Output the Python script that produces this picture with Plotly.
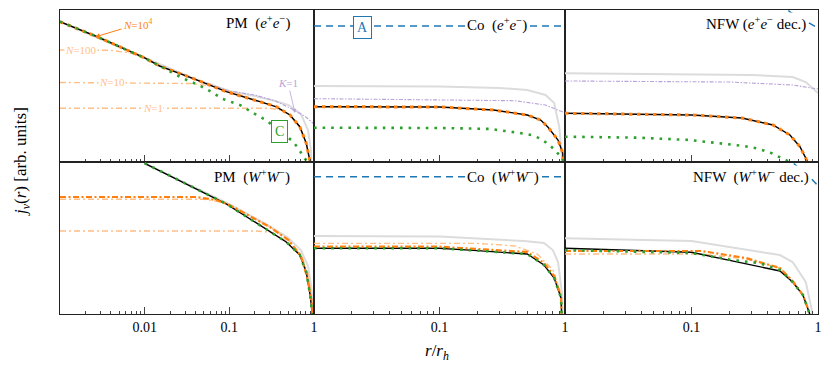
import plotly.graph_objects as go
from plotly.subplots import make_subplots

# ---- PM (e+e-) ----
pm_ee_black_r = [0.001, 0.0028, 0.01, 0.015, 0.037, 0.092, 0.23, 0.36, 0.52, 0.68, 0.81, 0.90, 0.97, 1.0]
pm_ee_black_j = [0.587, 0.293, 0.113, 0.0785, 0.0449, 0.0244, 0.0155, 0.0123, 0.00847, 0.00497, 0.00234, 0.0011, 0.00055, 1e-5]
pm_ee_n100_r = [0.001, 0.004, 0.007, 0.01, 0.015, 0.037, 0.092, 0.23, 0.36, 0.52, 0.68, 0.81, 0.90, 0.97, 1.0]
pm_ee_n100_j = [0.162, 0.16, 0.14, 0.113, 0.0785, 0.0449, 0.0244, 0.0155, 0.0123, 0.00847, 0.00497, 0.00234, 0.0011, 0.00055, 1e-5]
pm_ee_n10_r = [0.001, 0.035, 0.06, 0.1, 0.23, 0.36, 0.52, 0.68, 0.81, 0.90, 0.97, 1.0]
pm_ee_n10_j = [0.0371, 0.0354, 0.0316, 0.0246, 0.0155, 0.0123, 0.00847, 0.00497, 0.00234, 0.0011, 0.00055, 1e-5]
pm_ee_n1_r = [0.001, 0.3, 0.4, 0.5, 0.68, 0.81, 0.90, 0.97, 1.0]
pm_ee_n1_j = [0.0115, 0.0115, 0.0106, 0.0089, 0.00497, 0.00234, 0.0011, 0.00055, 1e-5]
pm_ee_green_r = [0.001, 0.0028, 0.01, 0.0187, 0.0283, 0.045, 0.056, 0.084, 0.134, 0.21, 0.27, 0.55, 0.65, 0.74, 0.84, 0.95]
pm_ee_green_j = [0.587, 0.293, 0.113, 0.0654, 0.0449, 0.0321, 0.0264, 0.0175, 0.0133, 0.00847, 0.00675, 0.00263, 0.00189, 0.00131, 0.001, 1e-5]
pm_ee_gray_r = [0.001, 0.01, 0.037, 0.1, 0.2, 0.35, 0.5, 0.7, 0.85, 0.92, 0.97, 1.0]
pm_ee_gray_j = [0.587, 0.113, 0.0449, 0.0252, 0.0201, 0.016, 0.0133, 0.00886, 0.00428, 0.00173, 0.00055, 1e-5]
pm_ee_k1_r = [0.03, 0.1, 0.2, 0.35, 0.55, 0.8, 1.0]
pm_ee_k1_j = [0.05, 0.0252, 0.021, 0.016, 0.0111, 0.00773, 0.00562]

# ---- Co (e+e-) ----
co_ee_blue_r = [0.01, 1.0]
co_ee_blue_j = [0.483, 0.483]
co_ee_gray_r = [0.01, 0.1, 0.3, 0.5, 0.7, 0.82, 0.9, 0.95, 1.0]
co_ee_gray_j = [0.0316, 0.0309, 0.0289, 0.0264, 0.021, 0.0146, 0.0049, 0.0011, 1e-5]
co_ee_k1_r = [0.01, 0.1, 0.4, 0.7, 1.0]
co_ee_k1_j = [0.0178, 0.0171, 0.0162, 0.0133, 0.0093]
co_ee_black_r = [0.01, 0.1, 0.27, 0.5, 0.64, 0.73, 0.88, 0.96, 1.0]
co_ee_black_j = [0.0123, 0.0122, 0.0106, 0.00847, 0.00675, 0.0049, 0.00272, 0.0015, 1e-5]
co_ee_green_r = [0.01, 0.1, 0.25, 0.33, 0.42, 0.54, 0.65, 0.73, 0.82, 0.9, 0.96, 1.0]
co_ee_green_j = [0.00475, 0.00469, 0.0045, 0.00415, 0.00379, 0.00341, 0.00284, 0.00227, 0.0018, 0.00137, 0.00115, 1e-5]

# ---- NFW (e+e- dec.) ----
nfw_ee_blue_r = [0.5, 0.6, 0.8, 1.0]
nfw_ee_blue_j = [1.44, 0.913, 0.607, 0.441]
nfw_ee_gray_r = [0.01, 0.1, 0.3, 0.63, 0.8, 1.0]
nfw_ee_gray_j = [0.0563, 0.0545, 0.0521, 0.0476, 0.0379, 0.023]
nfw_ee_k1_r = [0.01, 0.2, 0.63, 1.0]
nfw_ee_k1_j = [0.0397, 0.0379, 0.0331, 0.0276]
nfw_ee_black_r = [0.01, 0.1, 0.25, 0.44, 0.6, 0.72, 0.83, 0.9]
nfw_ee_black_j = [0.00915, 0.00847, 0.00739, 0.00537, 0.00341, 0.002, 0.001, 1e-5]
nfw_ee_green_r = [0.01, 0.037, 0.096, 0.16, 0.26, 0.33, 0.42, 0.52, 0.6, 0.7]
nfw_ee_green_j = [0.00316, 0.00302, 0.00272, 0.0024, 0.00207, 0.00186, 0.00153, 0.00118, 0.001, 1e-5]

# ---- PM (W+W-) ----
pm_ww_black_r = [0.01, 0.093, 0.47, 0.68, 0.81, 0.9, 0.95, 1.0]
pm_ww_black_j = [0.943, 0.148, 0.0264, 0.0146, 0.00675, 0.00237, 0.00105, 1e-5]
pm_ww_orange_r = [0.001, 0.04, 0.07, 0.1, 0.3, 0.5, 0.7, 0.85, 0.95, 1.0]
pm_ww_orange_j = [0.204, 0.204, 0.178, 0.142, 0.0521, 0.0289, 0.014, 0.00469, 0.0015, 1e-5]
pm_ww_n100_r = [0.001, 0.05, 0.08, 0.12, 0.3, 0.5, 0.7, 0.85, 0.95, 1.0]
pm_ww_n100_j = [0.184, 0.184, 0.162, 0.124, 0.0521, 0.0289, 0.014, 0.00469, 0.0015, 1e-5]
pm_ww_n10_r = [0.001, 0.2, 0.3, 0.45, 0.7, 0.85, 0.95, 1.0]
pm_ww_n10_j = [0.0435, 0.0435, 0.0415, 0.0289, 0.0153, 0.00616, 0.00189, 1e-5]
pm_ww_gray_r = [0.01, 0.1, 0.3, 0.5, 0.7, 0.85, 0.93, 0.98, 1.0]
pm_ww_gray_j = [0.943, 0.148, 0.0545, 0.0316, 0.0183, 0.00886, 0.00341, 0.0011, 1e-5]

# ---- Co (W+W-) ----
co_ww_blue_r = [0.01, 1.0]
co_ww_blue_j = [0.513, 0.513]
co_ww_gray_r = [0.01, 0.1, 0.47, 0.68, 0.8, 0.88, 0.95, 1.0]
co_ww_gray_j = [0.0346, 0.0339, 0.0276, 0.0252, 0.0183, 0.0106, 0.00237, 1e-5]
co_ww_black_r = [0.01, 0.1, 0.2, 0.5, 0.68, 0.82, 0.93, 1.0]
co_ww_black_j = [0.0198, 0.0198, 0.0178, 0.0153, 0.00927, 0.00513, 0.00207, 1e-5]
co_ww_orange_r = [0.01, 0.1, 0.2, 0.5, 0.68, 0.82, 0.93, 1.0]
co_ww_orange_j = [0.0213, 0.0213, 0.0192, 0.0167, 0.0102, 0.00562, 0.00217, 1e-5]
co_ww_light_r = [0.01, 0.2, 0.4, 0.6, 0.8, 0.93, 1.0]
co_ww_light_j = [0.0248, 0.0248, 0.022, 0.0153, 0.0075, 0.0025, 1e-5]

# ---- NFW (W+W- dec.) ----
nfw_ww_blue_r = [0.55, 0.65, 0.85, 1.0]
nfw_ww_blue_j = [1.37, 0.913, 0.529, 0.336]
nfw_ww_gray_r = [0.01, 0.1, 0.5, 0.63, 0.8, 0.9, 0.95]
nfw_ww_gray_j = [0.0312, 0.0276, 0.0146, 0.0106, 0.00428, 0.0011, 1e-5]
nfw_ww_black_r = [0.01, 0.1, 0.5, 0.63, 0.76, 0.83, 0.86, 0.9]
nfw_ww_black_j = [0.0198, 0.0165, 0.00706, 0.00428, 0.00237, 0.00131, 0.001, 1e-5]
nfw_ww_green_r = [0.01, 0.1, 0.21, 0.34, 0.5, 0.63, 0.76, 0.83, 0.86, 0.9]
nfw_ww_green_j = [0.0183, 0.016, 0.0116, 0.0102, 0.0074, 0.00428, 0.00237, 0.00131, 0.001, 1e-5]
nfw_ww_orange_r = [0.01, 0.12, 0.27, 0.5, 0.63, 0.76, 0.83, 0.86, 0.9]
nfw_ww_orange_j = [0.0175, 0.0175, 0.0127, 0.0081, 0.00447, 0.00237, 0.00131, 0.001, 1e-5]
nfw_ww_light_j = [0.0153, 0.0153, 0.0122, 0.0081, 0.00447, 0.00237, 0.00131, 0.001, 1e-5]

BLACK = dict(color='black', width=1.4)
ORANGE = dict(color='#ff7f0e', width=3, dash='3.5px,4.5px')
ORANGE_W = dict(color='#ff7f0e', width=2.2, dash='6px,2.5px,2px,2.5px')
GREEN = dict(color='#2ca02c', width=2.6, dash='2.6px,6px')
LIGHT = dict(color='#ffbf87', width=1.4, dash='6px,3px,2px,3px')
PURPLE = dict(color='#b9a3d9', width=1.1, dash='4px,1.5px,1.5px,1.5px')
GRAY = dict(color='#dcdcdc', width=2)
BLUE = dict(color='#1f77b4', width=1.5, dash='7px,5px')

fig = make_subplots(rows=2, cols=3, horizontal_spacing=0, vertical_spacing=0,
                    column_widths=[254, 251, 253])


def add(row, col, r, j, line):
    fig.add_trace(go.Scatter(x=r, y=j, mode='lines', line=line, hoverinfo='skip'),
                  row=row, col=col)


# top row
add(1, 1, pm_ee_gray_r, pm_ee_gray_j, GRAY)
add(1, 1, pm_ee_k1_r, pm_ee_k1_j, PURPLE)
add(1, 1, pm_ee_n100_r, pm_ee_n100_j, LIGHT)
add(1, 1, pm_ee_n10_r, pm_ee_n10_j, LIGHT)
add(1, 1, pm_ee_n1_r, pm_ee_n1_j, LIGHT)
add(1, 1, pm_ee_black_r, pm_ee_black_j, BLACK)
add(1, 1, pm_ee_black_r, pm_ee_black_j, ORANGE)
add(1, 1, pm_ee_green_r, pm_ee_green_j, GREEN)

add(1, 2, co_ee_gray_r, co_ee_gray_j, GRAY)
add(1, 2, co_ee_k1_r, co_ee_k1_j, PURPLE)
add(1, 2, co_ee_blue_r, co_ee_blue_j, BLUE)
add(1, 2, co_ee_black_r, co_ee_black_j, BLACK)
add(1, 2, co_ee_black_r, co_ee_black_j, ORANGE)
add(1, 2, co_ee_green_r, co_ee_green_j, GREEN)

add(1, 3, nfw_ee_gray_r, nfw_ee_gray_j, GRAY)
add(1, 3, nfw_ee_k1_r, nfw_ee_k1_j, PURPLE)
add(1, 3, nfw_ee_blue_r, nfw_ee_blue_j, BLUE)
add(1, 3, nfw_ee_black_r, nfw_ee_black_j, BLACK)
add(1, 3, nfw_ee_black_r, nfw_ee_black_j, ORANGE)
add(1, 3, nfw_ee_green_r, nfw_ee_green_j, GREEN)

# bottom row
add(2, 1, pm_ww_gray_r, pm_ww_gray_j, GRAY)
add(2, 1, pm_ww_n10_r, pm_ww_n10_j, LIGHT)
add(2, 1, pm_ww_n100_r, pm_ww_n100_j, LIGHT)
add(2, 1, pm_ww_black_r, pm_ww_black_j, BLACK)
add(2, 1, pm_ww_orange_r, pm_ww_orange_j, ORANGE_W)
add(2, 1, pm_ww_black_r, pm_ww_black_j, GREEN)

add(2, 2, co_ww_gray_r, co_ww_gray_j, GRAY)
add(2, 2, co_ww_blue_r, co_ww_blue_j, BLUE)
add(2, 2, co_ww_light_r, co_ww_light_j, LIGHT)
add(2, 2, co_ww_black_r, co_ww_black_j, BLACK)
add(2, 2, co_ww_orange_r, co_ww_orange_j, ORANGE_W)
add(2, 2, co_ww_black_r, co_ww_black_j, GREEN)

add(2, 3, nfw_ww_gray_r, nfw_ww_gray_j, GRAY)
add(2, 3, nfw_ww_blue_r, nfw_ww_blue_j, BLUE)
add(2, 3, nfw_ww_orange_r, nfw_ww_light_j, LIGHT)
add(2, 3, nfw_ww_black_r, nfw_ww_black_j, BLACK)
add(2, 3, nfw_ww_orange_r, nfw_ww_orange_j, ORANGE_W)
add(2, 3, nfw_ww_green_r, nfw_ww_green_j, GREEN)

FONT = 'Liberation Serif'
minor1 = [k * 10.0 ** n for n in (-3, -2, -1) for k in range(2, 10)]
minor2 = [k * 10.0 ** n for n in (-2, -1) for k in range(2, 10)]

for row in (1, 2):
    for col in (1, 2, 3):
        if col == 1:
            rng, tv, mv = [-3, 0], [0.001, 0.01, 0.1, 1], minor1
            tt = ['', '0.01', '0.1', '1']
        else:
            rng, tv, mv = [-2, 0], [0.01, 0.1, 1], minor2
            tt = ['', '0.1', '1']
        fig.update_xaxes(type='log', range=rng, tickmode='array', tickvals=tv, ticktext=tt,
                         showticklabels=(row == 2), ticks='inside', ticklen=7, tickcolor='#444',
                         minor=dict(tickmode='array', tickvals=mv, ticks='inside', ticklen=3.5,
                                    tickcolor='#444'),
                         showline=True, mirror=True, linecolor='#222', linewidth=0.8,
                         showgrid=False, zeroline=False,
                         tickfont=dict(family=FONT, size=14, color='black'),
                         row=row, col=col)
        fig.update_yaxes(type='log', range=[-3, 0], showticklabels=False, ticks='',
                         showline=True, mirror=True, linecolor='#222', linewidth=0.8,
                         showgrid=False, zeroline=False, row=row, col=col)


# the page body adds an 8px offset; plot area sits at 60..818 x 10..314 of the window
def px_x(px):
    return (px - 60) / 758


def px_y(py):
    return (314 - py) / 304


def label(x, y, text, font, **kw):
    d = dict(x=px_x(x), y=px_y(y), xref='paper', yref='paper', text=text, showarrow=False,
             xanchor='center', yanchor='middle', font=font)
    d.update(kw)
    return d


ann = []
titles = [
    (258, 22, 'PM  (<i>e</i><sup>+</sup><i>e</i><sup>\u2212</sup>)'),
    (497, 25, 'Co  (<i>e</i><sup>+</sup><i>e</i><sup>\u2212</sup>)'),
    (756, 24, 'NFW (<i>e</i><sup>+</sup><i>e</i><sup>\u2212</sup> dec.)'),
    (252, 176, 'PM  (<i>W</i><sup>+</sup><i>W</i><sup>\u2212</sup>)'),
    (503, 176, 'Co  (<i>W</i><sup>+</sup><i>W</i><sup>\u2212</sup>)'),
    (751, 176, 'NFW  (<i>W</i><sup>+</sup><i>W</i><sup>\u2212</sup> dec.)'),
]
for x, y, t in titles:
    ann.append(label(x, y, t, dict(family=FONT, size=15, color='black'),
                     bgcolor='white', borderpad=1))

lab_font = dict(family=FONT, size=11, color='#ffbf87')
for x, y, t in [(81, 50, '<i>N</i>=100'), (112, 82, '<i>N</i>=10'), (153, 108, '<i>N</i>=1')]:
    ann.append(label(x, y, t, lab_font, bgcolor='white', borderpad=0))

ann.append(dict(x=px_x(95), y=px_y(37), xref='paper', yref='paper', text='<i>N</i>=10<sup>4</sup>',
                showarrow=True, ax=43, ay=-13, arrowhead=2, arrowsize=1, arrowwidth=1,
                arrowcolor='#ff7f0e', font=dict(family=FONT, size=11, color='#ff7f0e')))
ann.append(dict(x=px_x(295), y=px_y(113), xref='paper', yref='paper', text='<i>K</i>=1',
                showarrow=True, ax=-7, ay=-30, arrowhead=2, arrowsize=1, arrowwidth=0.8,
                arrowcolor='#b9a3d9', font=dict(family=FONT, size=11, color='#b9a3d9')))
ann.append(label(362, 27, 'A', dict(family=FONT, size=14, color='#1f77b4'),
                 bgcolor='white', bordercolor='#1f77b4', borderwidth=1, borderpad=3))
ann.append(label(279, 132, 'C', dict(family=FONT, size=14, color='#2ca02c'),
                 bgcolor='white', bordercolor='#2ca02c', borderwidth=1, borderpad=3))
ann.append(label(22, 162, '<i>j<sub>\u03bd</sub></i>(<i>r</i>) [arb. units]',
                 dict(family=FONT, size=17, color='black'), textangle=-90))
ann.append(label(437, 352, '<i>r</i>/<i>r<sub>h</sub></i>', dict(family=FONT, size=17, color='black')))

fig.update_layout(width=823, height=362, margin=dict(l=52, r=13, t=2, b=56),
                  plot_bgcolor='white', paper_bgcolor='white', showlegend=False,
                  annotations=ann, font=dict(family=FONT))

fig.write_html("out.html")
